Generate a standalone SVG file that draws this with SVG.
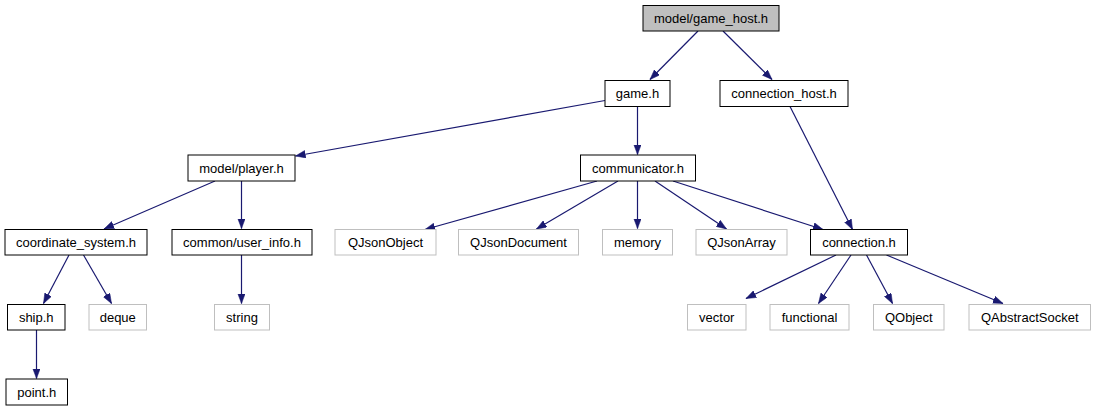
<svg xmlns="http://www.w3.org/2000/svg" width="1097" height="411" viewBox="0 0 1097 411">
<style>
.n rect{fill:#fff;stroke:#000;stroke-width:1}
.n.g rect{stroke:#bfbfbf}
.n.h rect{fill:#bfbfbf}
.n text{font-family:"Liberation Sans",Arial,sans-serif;font-size:13px;fill:#000;text-anchor:middle}
#edges line{stroke:#191970;stroke-width:1.2;fill:none;marker-end:url(#ah)}
</style>
<defs>
<marker id="ah" markerUnits="userSpaceOnUse" markerWidth="11" markerHeight="8" refX="10" refY="3.75" orient="auto">
<path d="M0,0 L10,3.75 L0,7.5 z" fill="#191970" stroke="#191970" stroke-width="0.5"/>
</marker>
</defs>
<rect width="1097" height="411" fill="#fff"/>
<g id="edges">
<line x1="698" y1="31" x2="650" y2="79.5"/>
<line x1="723" y1="31" x2="772" y2="79.5"/>
<line x1="605" y1="100.5" x2="295.5" y2="156"/>
<line x1="637.5" y1="106.5" x2="637.5" y2="154.5"/>
<line x1="790" y1="106.5" x2="852.5" y2="229.5"/>
<line x1="215" y1="181" x2="104" y2="229"/>
<line x1="241.5" y1="181" x2="241.5" y2="228.5"/>
<line x1="597" y1="181" x2="425" y2="229.5"/>
<line x1="618" y1="181" x2="536.5" y2="229"/>
<line x1="637.5" y1="181" x2="637.5" y2="228.5"/>
<line x1="655" y1="181" x2="726.5" y2="229"/>
<line x1="673" y1="181" x2="823" y2="229.5"/>
<line x1="836" y1="255" x2="746" y2="298.5"/>
<line x1="851" y1="255" x2="818.5" y2="303.5"/>
<line x1="866.5" y1="255" x2="892.5" y2="303.5"/>
<line x1="886.5" y1="255" x2="1003" y2="303.5"/>
<line x1="69" y1="255" x2="43.5" y2="303.5"/>
<line x1="83.5" y1="255" x2="111.5" y2="303.5"/>
<line x1="241.5" y1="255" x2="241.5" y2="303.5"/>
<line x1="36.5" y1="330" x2="36.5" y2="378.5"/>
</g>
<g id="n_game_host" class="n h"><rect x="643" y="5.5" width="136" height="25.5"/><text x="711" y="23">model/game_host.h</text></g>
<g id="n_game" class="n"><rect x="605" y="80.5" width="65" height="26"/><text x="637.5" y="98">game.h</text></g>
<g id="n_connection_host" class="n"><rect x="720" y="80.5" width="128" height="26"/><text x="784" y="98">connection_host.h</text></g>
<g id="n_player" class="n"><rect x="188" y="155" width="107" height="26"/><text x="241.5" y="172.5">model/player.h</text></g>
<g id="n_communicator" class="n"><rect x="580.5" y="155" width="115" height="26"/><text x="638" y="172.5">communicator.h</text></g>
<g id="n_coord" class="n"><rect x="5" y="229.5" width="142" height="25.5"/><text x="76" y="247">coordinate_system.h</text></g>
<g id="n_user_info" class="n"><rect x="172" y="229.5" width="140" height="25.5"/><text x="242" y="247">common/user_info.h</text></g>
<g id="n_qjsonobject" class="n g"><rect x="335" y="229.5" width="101" height="25.5"/><text x="385.5" y="247">QJsonObject</text></g>
<g id="n_qjsondocument" class="n g"><rect x="458.5" y="229.5" width="120" height="25.5"/><text x="518.5" y="247">QJsonDocument</text></g>
<g id="n_memory" class="n g"><rect x="602.5" y="229.5" width="70" height="25.5"/><text x="637.5" y="247">memory</text></g>
<g id="n_qjsonarray" class="n g"><rect x="696" y="229.5" width="91" height="25.5"/><text x="741.5" y="247">QJsonArray</text></g>
<g id="n_connection" class="n"><rect x="810.5" y="229.5" width="97" height="25.5"/><text x="859" y="247">connection.h</text></g>
<g id="n_ship" class="n"><rect x="7.5" y="304.5" width="57.5" height="25.5"/><text x="36.25" y="322">ship.h</text></g>
<g id="n_deque" class="n g"><rect x="89" y="304.5" width="57.5" height="25.5"/><text x="117.75" y="322">deque</text></g>
<g id="n_string" class="n g"><rect x="214.5" y="304.5" width="55" height="25.5"/><text x="242" y="322">string</text></g>
<g id="n_vector" class="n g"><rect x="687.5" y="304.5" width="58.5" height="25.5"/><text x="716.75" y="322">vector</text></g>
<g id="n_functional" class="n g"><rect x="770" y="304.5" width="79" height="25.5"/><text x="809.5" y="322">functional</text></g>
<g id="n_qobject" class="n g"><rect x="873.5" y="304.5" width="70.5" height="25.5"/><text x="908.75" y="322">QObject</text></g>
<g id="n_qabstractsocket" class="n g"><rect x="969" y="304.5" width="121.5" height="25.5"/><text x="1029.75" y="322">QAbstractSocket</text></g>
<g id="n_point" class="n"><rect x="6" y="379" width="61.5" height="26"/><text x="36.75" y="396.5">point.h</text></g>
</svg>
